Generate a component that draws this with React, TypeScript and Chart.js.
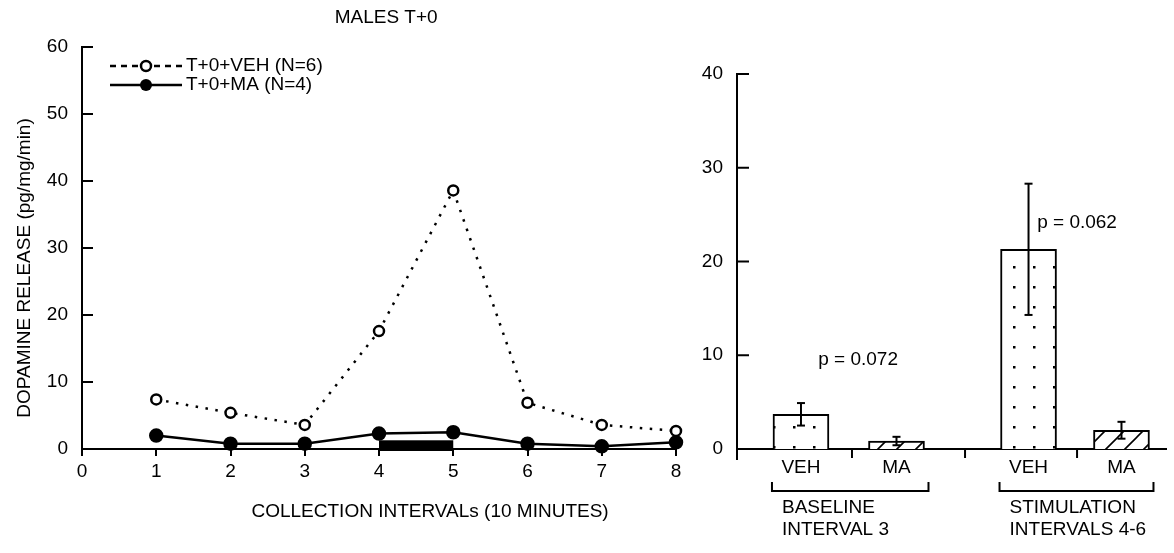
import React, { useEffect, useRef } from "react";
import { Chart, registerables } from "chart.js";

Chart.register(...registerables);

const FONT = '"Liberation Sans", Arial, Helvetica, sans-serif';
const FS = 19;

// ---------- left panel data ----------
const intervals = [1, 2, 3, 4, 5, 6, 7, 8];
const vehSeries = [7.4, 5.4, 3.6, 17.6, 38.6, 6.9, 3.6, 2.7];
const maSeries = [2.0, 0.8, 0.8, 2.3, 2.5, 0.8, 0.4, 1.0];
const leftXTicks = [0, 1, 2, 3, 4, 5, 6, 7, 8];
const leftYTicks = [0, 10, 20, 30, 40, 50, 60];
const stimFrom = 4;
const stimTo = 5;
const stimLevel = 1.3;
const seriesNames = ["T+0+VEH (N=6)", "T+0+MA (N=4)"];
const panelTitle = "MALES T+0";
const leftYTitle = "DOPAMINE RELEASE (pg/mg/min)";
const leftXTitle = "COLLECTION INTERVALs (10 MINUTES)";

// ---------- right panel data ----------
const barTreatments = ["VEH", "MA", "VEH", "MA"];
const barMeans = [3.7, 0.85, 21.3, 2.0];
const barErrors = [1.2, 0.45, 7.0, 0.9];
const groupNames = [
  ["BASELINE", "INTERVAL 3"],
  ["STIMULATION", "INTERVALS 4-6"],
];
const pLabels = ["p = 0.072", "p = 0.062"];
const pHeights = [9.5, 24.1];
const rightYTicks = [0, 10, 20, 30, 40];

// layout (axis units of the right panel)
const BAR_SLOTS = [0.671, 1.673, 3.058, 4.033];
const SEPARATORS = [1.206, 2.392, 3.567];
const P_SLOTS = [1.27, 3.567];
const RIGHT_X_MAX = 4.5;

function makeDots(): CanvasPattern | string {
  const c = document.createElement("canvas");
  c.width = 20;
  c.height = 20;
  const g = c.getContext("2d");
  if (!g) return "#fff";
  g.fillStyle = "#fff";
  g.fillRect(0, 0, 20, 20);
  g.fillStyle = "#000";
  g.fillRect(13, 6, 2.5, 2.5);
  return g.createPattern(c, "repeat") || "#fff";
}

function makeHatch(): CanvasPattern | string {
  const s = 19;
  const c = document.createElement("canvas");
  c.width = s;
  c.height = s;
  const g = c.getContext("2d");
  if (!g) return "#fff";
  g.fillStyle = "#fff";
  g.fillRect(0, 0, s, s);
  g.strokeStyle = "#000";
  g.lineWidth = 1.6;
  g.beginPath();
  g.moveTo(0, s);
  g.lineTo(s, 0);
  g.moveTo(-2, 2);
  g.lineTo(2, -2);
  g.moveTo(s - 2, s + 2);
  g.lineTo(s + 2, s - 2);
  g.stroke();
  return g.createPattern(c, "repeat") || "#fff";
}

function seg(ctx: CanvasRenderingContext2D, x0: number, y0: number, x1: number, y1: number) {
  ctx.beginPath();
  ctx.moveTo(x0, y0);
  ctx.lineTo(x1, y1);
  ctx.stroke();
}

const leftDecor = {
  id: "leftDecor",
  beforeDatasetsDraw(chart: any) {
    const { ctx, scales } = chart;
    const x = scales.x;
    const y = scales.y;
    const x0 = x.getPixelForValue(stimFrom);
    const x1 = x.getPixelForValue(stimTo);
    const yt = y.getPixelForValue(stimLevel);
    const yb = y.getPixelForValue(0) + 2;
    ctx.save();
    ctx.fillStyle = "#000";
    ctx.fillRect(x0, yt, x1 - x0, yb - yt);
    ctx.restore();
  },
  afterDraw(chart: any) {
    const { ctx, chartArea, scales } = chart;
    const y = scales.y;
    const ca = chartArea;
    const w = ca.right - ca.left;
    ctx.save();
    ctx.strokeStyle = "#000";
    ctx.lineWidth = 2;
    for (const v of leftYTicks) {
      if (v === 0) continue;
      const py = y.getPixelForValue(v);
      seg(ctx, ca.left, py, ca.left + 11, py);
    }
    ctx.fillStyle = "#000";
    ctx.font = `${FS}px ${FONT}`;
    ctx.textBaseline = "middle";
    ctx.textAlign = "center";
    ctx.fillText(panelTitle, ca.left + 0.512 * w, 18);
    ctx.fillText(leftXTitle, ca.left + 0.586 * w, 512);
    ctx.save();
    ctx.translate(25, (ca.top + ca.bottom) / 2 + 20);
    ctx.rotate(-Math.PI / 2);
    ctx.fillText(leftYTitle, 0, 0);
    ctx.restore();

    // legend
    const lx0 = ca.left + 28;
    const lx1 = ca.left + 100;
    const lxc = (lx0 + lx1) / 2;
    const rows = [ca.top + 19, ca.top + 38];
    ctx.lineWidth = 2.5;
    ctx.setLineDash([6, 5]);
    seg(ctx, lx0, rows[0], lx1, rows[0]);
    ctx.setLineDash([]);
    ctx.beginPath();
    ctx.arc(lxc, rows[0], 5, 0, Math.PI * 2);
    ctx.fillStyle = "#fff";
    ctx.fill();
    ctx.stroke();
    seg(ctx, lx0, rows[1], lx1, rows[1]);
    ctx.beginPath();
    ctx.arc(lxc, rows[1], 6, 0, Math.PI * 2);
    ctx.fillStyle = "#000";
    ctx.fill();
    ctx.textAlign = "left";
    ctx.fillText(seriesNames[0], lx1 + 4, rows[0]);
    ctx.fillText(seriesNames[1], lx1 + 4, rows[1]);
    ctx.restore();
  },
};

const rightDecor = {
  id: "rightDecor",
  afterDatasetsDraw(chart: any) {
    const { ctx, scales } = chart;
    const x = scales.x;
    const y = scales.y;
    ctx.save();
    ctx.strokeStyle = "#000";
    ctx.lineWidth = 2;
    barMeans.forEach((m, i) => {
      const px = x.getPixelForValue(BAR_SLOTS[i]);
      const top = y.getPixelForValue(m + barErrors[i]);
      const bot = y.getPixelForValue(Math.max(0, m - barErrors[i]));
      seg(ctx, px, top, px, bot);
      seg(ctx, px - 4, top, px + 4, top);
      seg(ctx, px - 4, bot, px + 4, bot);
    });
    ctx.restore();
  },
  afterDraw(chart: any) {
    const { ctx, chartArea, scales } = chart;
    const x = scales.x;
    const y = scales.y;
    const ca = chartArea;
    ctx.save();
    ctx.strokeStyle = "#000";
    ctx.lineWidth = 2;
    for (const v of rightYTicks) {
      if (v === 0) continue;
      const py = y.getPixelForValue(v);
      seg(ctx, ca.left, py, ca.left + 12, py);
    }
    seg(ctx, ca.left, ca.bottom, ca.left, ca.bottom + 11);
    for (const s of SEPARATORS) {
      const px = x.getPixelForValue(s);
      seg(ctx, px, ca.bottom, px, ca.bottom + 9);
    }
    ctx.fillStyle = "#000";
    ctx.font = `${FS}px ${FONT}`;
    ctx.textBaseline = "middle";
    ctx.textAlign = "center";
    barTreatments.forEach((t, i) => {
      ctx.fillText(t, x.getPixelForValue(BAR_SLOTS[i]), ca.bottom + 19);
    });
    const half = 28;
    groupNames.forEach((lines, gi) => {
      const a = x.getPixelForValue(BAR_SLOTS[gi * 2]) - half - 1;
      const b = x.getPixelForValue(BAR_SLOTS[gi * 2 + 1]) + half + 4;
      const yb = ca.bottom + 42;
      ctx.beginPath();
      ctx.moveTo(a, ca.bottom + 33);
      ctx.lineTo(a, yb);
      ctx.lineTo(b, yb);
      ctx.lineTo(b, ca.bottom + 33);
      ctx.stroke();
      ctx.textAlign = "left";
      ctx.fillText(lines[0], a + 10, ca.bottom + 59);
      ctx.fillText(lines[1], a + 10, ca.bottom + 81);
      ctx.textAlign = "center";
    });
    pLabels.forEach((p, i) => {
      ctx.fillText(p, x.getPixelForValue(P_SLOTS[i]), y.getPixelForValue(pHeights[i]));
    });
    ctx.restore();
  },
};

const tickFont = { family: FONT, size: FS };

export default function App() {
  const leftRef = useRef<HTMLCanvasElement>(null);
  const rightRef = useRef<HTMLCanvasElement>(null);

  useEffect(() => {
    const left = new Chart(leftRef.current as HTMLCanvasElement, {
      type: "line",
      data: {
        datasets: [
          {
            label: seriesNames[0],
            data: intervals.map((v, i) => ({ x: v, y: vehSeries[i] })),
            borderColor: "#000",
            borderWidth: 2.5,
            borderDash: [2.5, 7.5],
            pointRadius: 5,
            pointBorderWidth: 2.5,
            pointBackgroundColor: "#fff",
            pointBorderColor: "#000",
            tension: 0,
            fill: false,
            clip: false,
          },
          {
            label: seriesNames[1],
            data: intervals.map((v, i) => ({ x: v, y: maSeries[i] })),
            borderColor: "#000",
            borderWidth: 2.5,
            pointRadius: 6,
            pointBackgroundColor: "#000",
            pointBorderColor: "#000",
            tension: 0,
            fill: false,
            clip: false,
          },
        ],
      } as any,
      options: {
        animation: false,
        responsive: false,
        devicePixelRatio: 1,
        layout: { padding: { left: 0, right: 24, top: 47, bottom: 0 } },
        plugins: { legend: { display: false }, tooltip: { enabled: false } },
        scales: {
          x: {
            type: "linear",
            min: 0,
            max: 8,
            afterBuildTicks: (s: any) => {
              s.ticks = leftXTicks.map((v) => ({ value: v }));
            },
            ticks: { color: "#000", font: tickFont, padding: 4, maxRotation: 0, autoSkip: false },
            grid: { display: true, drawOnChartArea: false, drawTicks: true, tickLength: 7, color: "#000", lineWidth: 2 },
            border: { display: true, color: "#000", width: 2 },
            afterFit: (s: any) => {
              s.height = 104;
            },
          },
          y: {
            type: "linear",
            min: 0,
            max: 60,
            afterBuildTicks: (s: any) => {
              s.ticks = leftYTicks.map((v) => ({ value: v }));
            },
            ticks: { color: "#000", font: tickFont, padding: 14 },
            grid: { display: false, drawTicks: false },
            border: { display: true, color: "#000", width: 2 },
            afterFit: (s: any) => {
              s.width = 82;
            },
          },
        },
      } as any,
      plugins: [leftDecor],
    });

    const dots = makeDots();
    const hatch = makeHatch();
    const right = new Chart(rightRef.current as HTMLCanvasElement, {
      type: "bar",
      data: {
        datasets: [
          {
            label: "mean",
            data: barMeans.map((m, i) => ({ x: BAR_SLOTS[i], y: m })),
            backgroundColor: barTreatments.map((t) => (t === "VEH" ? dots : hatch)),
            borderColor: "#000",
            borderWidth: 2,
            borderSkipped: "start",
            barThickness: 56,
          },
        ],
      } as any,
      options: {
        animation: false,
        responsive: false,
        devicePixelRatio: 1,
        layout: { padding: { left: 0, right: 8, top: 74, bottom: 0 } },
        plugins: { legend: { display: false }, tooltip: { enabled: false } },
        scales: {
          x: {
            type: "linear",
            min: 0,
            max: RIGHT_X_MAX,
            offset: false,
            ticks: { display: false },
            grid: { display: false, drawTicks: false },
            border: { display: true, color: "#000", width: 2 },
            afterFit: (s: any) => {
              s.height = 104;
            },
          },
          y: {
            type: "linear",
            min: 0,
            max: 40,
            afterBuildTicks: (s: any) => {
              s.ticks = rightYTicks.map((v) => ({ value: v }));
            },
            ticks: { color: "#000", font: tickFont, padding: 14 },
            grid: { display: false, drawTicks: false },
            border: { display: true, color: "#000", width: 2 },
            afterFit: (s: any) => {
              s.width = 37;
            },
          },
        },
      } as any,
      plugins: [rightDecor],
    });

    return () => {
      left.destroy();
      right.destroy();
    };
  }, []);

  return (
    <div style={{ position: "absolute", left: 0, top: 0, width: 1174, height: 553, background: "#fff" }}>
      <canvas ref={leftRef} width={700} height={553} style={{ position: "absolute", left: 0, top: 0 }} />
      <canvas ref={rightRef} width={474} height={553} style={{ position: "absolute", left: 700, top: 0 }} />
    </div>
  );
}
